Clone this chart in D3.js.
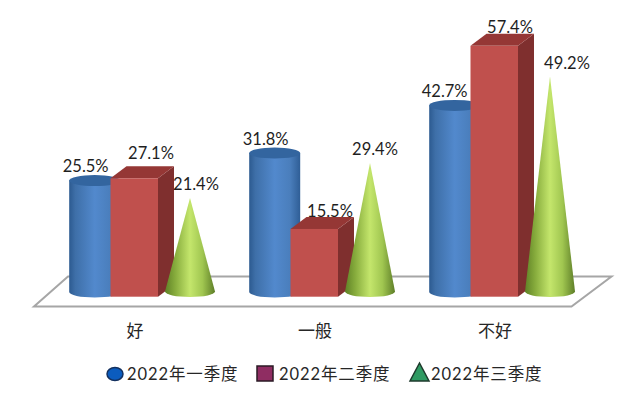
<!DOCTYPE html>
<html><head><meta charset="utf-8">
<script src="https://cdn.jsdelivr.net/npm/d3@7"></script>
<style>html,body{margin:0;background:#fff}svg{display:block}</style></head>
<body><svg id="c" width="639" height="401"></svg>
<script>
const categories = ["好","一般","不好"];
const seriesNames = ["2022年一季度","2022年二季度","2022年三季度"];
const q1 = [25.5,31.8,42.7];
const q2 = [27.1,15.5,57.4];
const q3 = [21.4,29.4,49.2];

const svg = d3.select("#c");
const x = d3.scaleBand().domain(categories).range([44,584]);
const h = d3.scaleLinear().domain([0,100]).range([0,437]);
const defs = svg.append("defs");
function grad(id,stops){
  const g=defs.append("linearGradient").attr("id",id).attr("x1",0).attr("x2",1).attr("y1",0).attr("y2",0);
  stops.forEach(s=>g.append("stop").attr("offset",s[0]).attr("stop-color",s[1]));
}
grad("cyl",[[0,"#2c5a90"],[.12,"#3e6fa8"],[.5,"#5289cd"],[.8,"#4a7ebc"],[1,"#2f5e96"]]);
grad("cone",[[0,"#5f8126"],[.2,"#86ab3c"],[.5,"#c4e66c"],[.75,"#a0c650"],[1,"#5e7e28"]]);

const CJK='Lato,"Noto Sans CJK SC",sans-serif';
const NUM='Lato,"Open Sans",sans-serif';

// floor
svg.append("polygon").attr("points","34,306.5 571.5,306.5 611.5,276.5 68,276.5")
  .attr("fill","#fff").attr("stroke","#a6a6a6").attr("stroke-width",2);

const cx=c=>x(c)+x.bandwidth()/2;
const cylBase=292, boxBase=296.7, coneBase=291.5;
const cylR=25.5, ry=5.5, boxW=47.5, dx=16, dy=12, coneR=25;

categories.forEach((c,i)=>{
  const m=cx(c);
  // cylinder
  const cc=m-39.3, top=cylBase-h(q1[i]);
  svg.append("path").attr("fill","url(#cyl)")
    .attr("d",`M${cc-cylR},${top}L${cc-cylR},${cylBase}A${cylR},${ry} 0 0 0 ${cc+cylR},${cylBase}L${cc+cylR},${top}Z`);
  svg.append("ellipse").attr("cx",cc).attr("cy",top).attr("rx",cylR).attr("ry",ry).attr("fill","#33659f");
  // box
  const bl=m-23.5, br=bl+boxW, bt=boxBase-h(q2[i]);
  svg.append("path").attr("fill","#7f2f2e")
    .attr("d",`M${br},${bt}L${br+dx},${bt-dy}L${br+dx},${boxBase-dy}L${br},${boxBase}Z`);
  svg.append("path").attr("fill","#953735")
    .attr("d",`M${bl},${bt}L${bl+dx},${bt-dy}L${br+dx},${bt-dy}L${br},${bt}Z`);
  svg.append("rect").attr("x",bl).attr("y",bt).attr("width",boxW).attr("height",h(q2[i])).attr("fill","#c0504d");
  // cone
  const kc=m+56, apex=coneBase-h(q3[i]);
  svg.append("path").attr("fill","url(#cone)")
    .attr("d",`M${kc},${apex}L${kc-coneR},${coneBase}A${coneR},${ry} 0 0 0 ${kc+coneR},${coneBase}Z`);
  // category label
  svg.append("text").attr("x",m+1).attr("y",337).attr("text-anchor","middle")
    .attr("font-family",CJK).attr("font-size",17).attr("fill","#262626").text(c);
});

// value labels: small offsets follow the hand-placed labels of the original
const lblQ1=[[-9,-9],[-9,-8],[-10,-8]];
const lblQ2=[[17,-19],[16,-12],[16,-13]];
const lblQ3=[[6,-8],[5,-8],[17,-7]];
function label(text,px,py){
  svg.append("text").attr("x",px).attr("y",py).attr("text-anchor","middle")
    .attr("font-family",NUM).attr("font-size",16.5).attr("fill","#1f1f1f").text(text);
}
categories.forEach((c,i)=>{
  const m=cx(c);
  label(q1[i].toFixed(1)+"%",m-39.3+lblQ1[i][0],cylBase-h(q1[i])+lblQ1[i][1]);
  label(q2[i].toFixed(1)+"%",m+lblQ2[i][0],boxBase-h(q2[i])+lblQ2[i][1]);
  label(q3[i].toFixed(1)+"%",m+56+lblQ3[i][0],coneBase-h(q3[i])+lblQ3[i][1]);
});

// legend
const legY=374;
svg.append("ellipse").attr("cx",115).attr("cy",legY).attr("rx",8).attr("ry",6.5)
  .attr("fill","#0b5cbe").attr("stroke","#14315f").attr("stroke-width",1.5);
svg.append("rect").attr("x",257).attr("y",366).attr("width",16).attr("height",15)
  .attr("fill","#8f2d62").attr("stroke","#2a1a24").attr("stroke-width",1.5);
svg.append("polygon").attr("points","410,381 429,381 419.5,363")
  .attr("fill","#2f9a62").attr("stroke","#1e3a2c").attr("stroke-width",1.5);
[127,279,431].forEach((lx,i)=>{
  svg.append("text").attr("x",lx).attr("y",380).attr("font-family",CJK).attr("font-size",16.5)
    .attr("letter-spacing",0.9).attr("fill","#262626").text(seriesNames[i]);
});
</script></body></html>
